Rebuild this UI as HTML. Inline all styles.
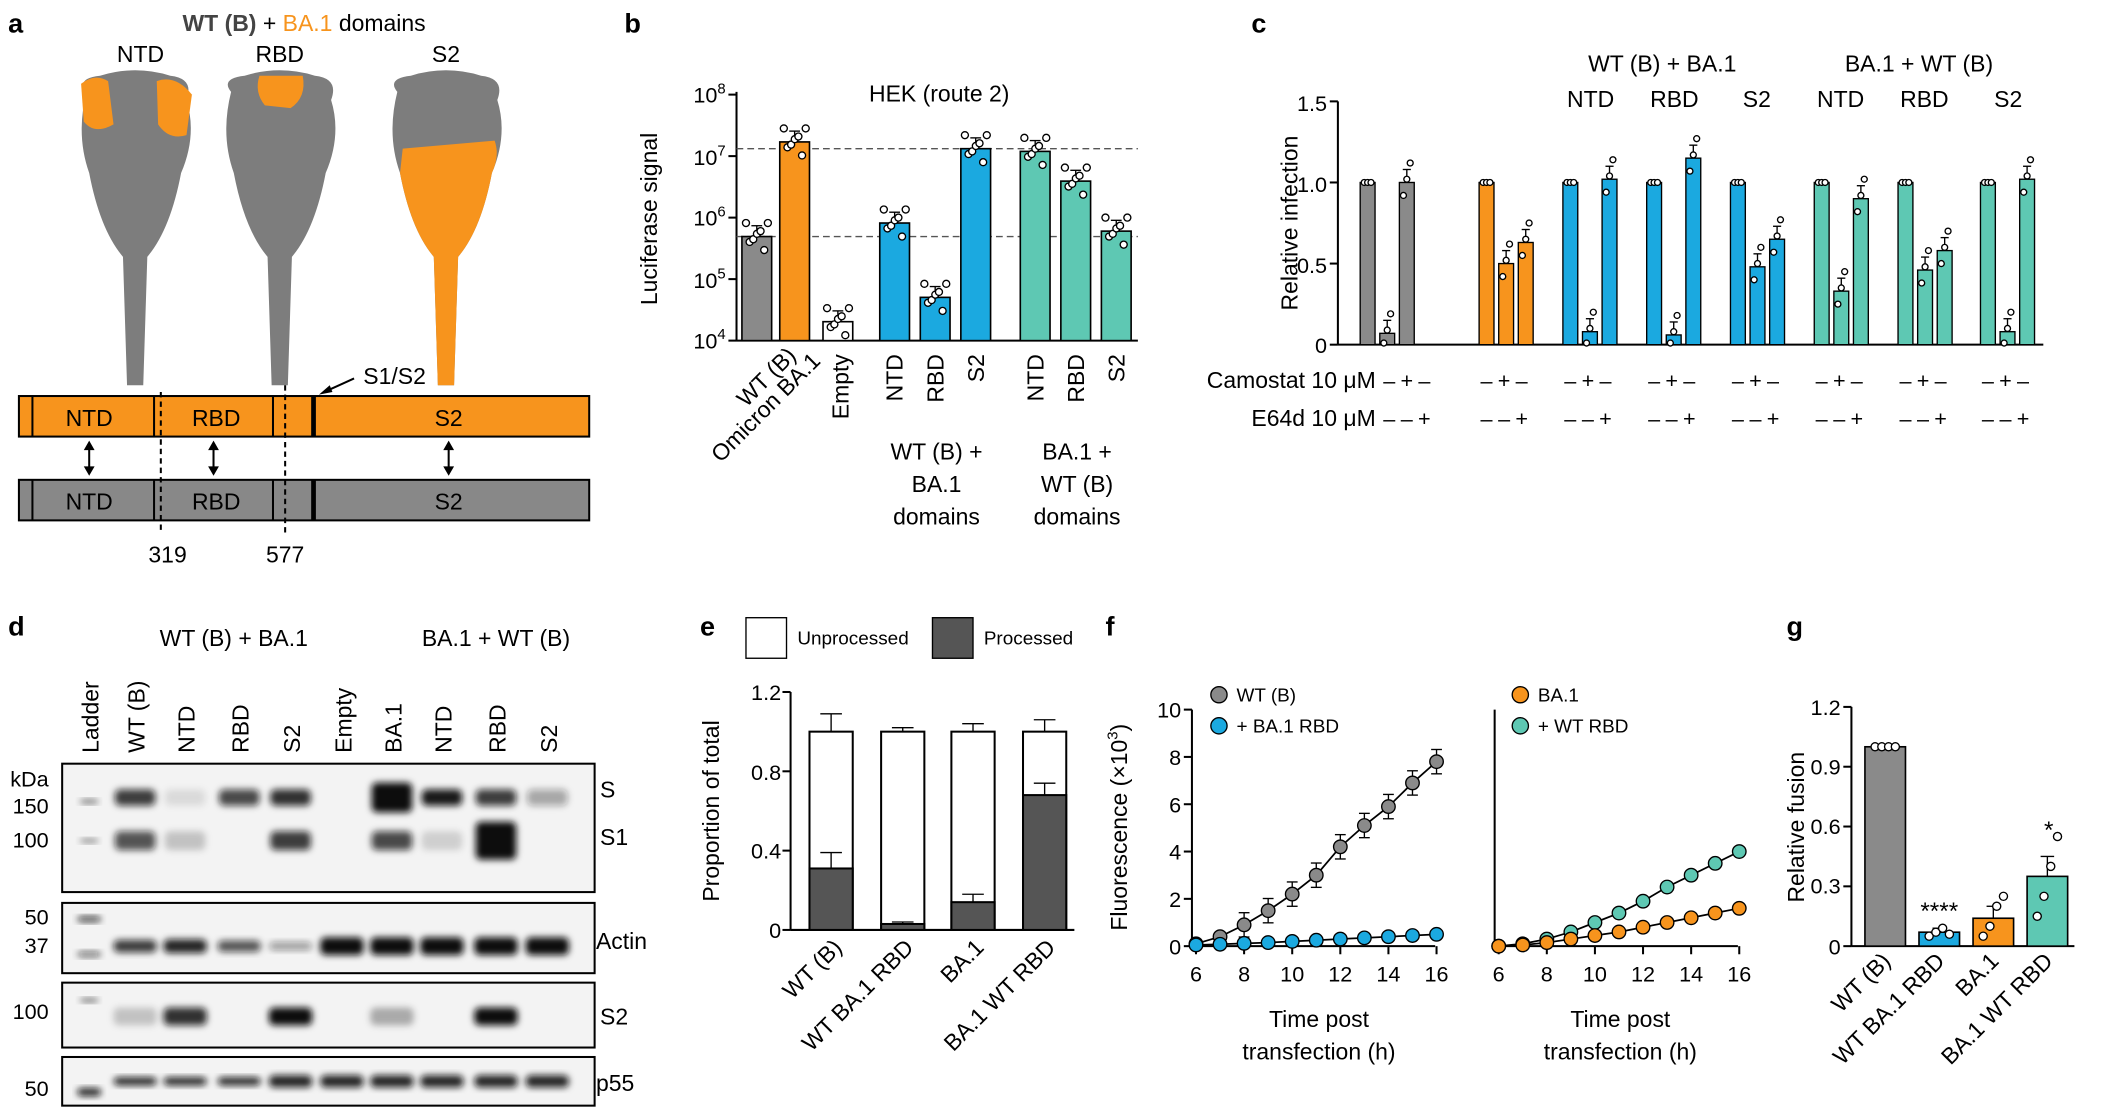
<!DOCTYPE html>
<html><head><meta charset="utf-8"><style>
html,body{margin:0;padding:0;background:#fff;}
svg{display:block;font-family:"Liberation Sans",Arial,sans-serif;}
</style></head><body>
<svg id="s" width="2119" height="1107" viewBox="0 0 1568 819" preserveAspectRatio="none" xmlns="http://www.w3.org/2000/svg">
<defs>
<filter id="bl" x="-20%" y="-50%" width="140%" height="200%"><feGaussianBlur stdDeviation="2.5"/></filter>
</defs>
<g font-weight="bold" font-size="20">
<text x="6" y="24">a</text><text x="462" y="24">b</text><text x="926" y="24">c</text>
<text x="6" y="470">d</text><text x="518" y="470">e</text><text x="818" y="470">f</text><text x="1322" y="470">g</text>
</g>
<text x="225" y="23" font-size="17" text-anchor="middle"><tspan font-weight="bold" fill="#444">WT (B)</tspan> + <tspan fill="#f7941d">BA.1</tspan> domains</text>
<g font-size="17" text-anchor="middle"><text x="104" y="46">NTD</text><text x="207" y="46">RBD</text><text x="330" y="46">S2</text></g>
<g id="spikes"></g>
<rect x="14" y="293" width="422" height="30" fill="#f7941d" stroke="#000" stroke-width="1.5"/>
<rect x="14" y="355" width="422" height="30" fill="#888" stroke="#000" stroke-width="1.5"/>
<g stroke="#000" stroke-width="1.5">
<line x1="24" y1="293" x2="24" y2="323"/><line x1="24" y1="355" x2="24" y2="385"/>
<line x1="114" y1="293" x2="114" y2="323"/><line x1="114" y1="355" x2="114" y2="385"/>
<line x1="202" y1="293" x2="202" y2="323"/><line x1="202" y1="355" x2="202" y2="385"/>
<line x1="232" y1="293" x2="232" y2="323" stroke-width="3.5"/><line x1="232" y1="355" x2="232" y2="385" stroke-width="3.5"/>
<line x1="119" y1="290" x2="119" y2="395" stroke-dasharray="4,3"/>
<line x1="211" y1="285" x2="211" y2="395" stroke-dasharray="4,3"/>
<line x1="66" y1="328" x2="66" y2="350"/><line x1="158" y1="328" x2="158" y2="350"/><line x1="332" y1="328" x2="332" y2="350"/>
<line x1="262" y1="280" x2="240" y2="290"/>
</g>
<g fill="#000"><path d="M66,326 l-4,7 h8z M66,352 l-4,-7 h8z M158,326 l-4,7 h8z M158,352 l-4,-7 h8z M332,326 l-4,7 h8z M332,352 l-4,-7 h8z M236,292 l8,-7 l2,5z"/></g>
<g font-size="17" text-anchor="middle">
<text x="66" y="315">NTD</text><text x="160" y="315">RBD</text><text x="332" y="315">S2</text>
<text x="66" y="377">NTD</text><text x="160" y="377">RBD</text><text x="332" y="377">S2</text>
<text x="124" y="416">319</text><text x="211" y="416">577</text>
<text x="292" y="284">S1/S2</text>
</g>
<g id="pb"></g>
<text x="695" y="75" font-size="17" text-anchor="middle">HEK (route 2)</text>
<text transform="translate(486,162) rotate(-90)" font-size="17" text-anchor="middle">Luciferase signal</text>
<g font-size="16" text-anchor="end">
<text x="537" y="76">10<tspan font-size="11" dy="-7">8</tspan></text>
<text x="537" y="122">10<tspan font-size="11" dy="-7">7</tspan></text>
<text x="537" y="167">10<tspan font-size="11" dy="-7">6</tspan></text>
<text x="537" y="213">10<tspan font-size="11" dy="-7">5</tspan></text>
<text x="537" y="258">10<tspan font-size="11" dy="-7">4</tspan></text>
</g>
<g font-size="17" text-anchor="end">
<text transform="translate(590,264) rotate(-45)">WT (B)</text>
<text transform="translate(608,268) rotate(-45)">Omicron BA.1</text>
<text transform="translate(628,262) rotate(-90)">Empty</text>
<text transform="translate(668,262) rotate(-90)">NTD</text>
<text transform="translate(698,262) rotate(-90)">RBD</text>
<text transform="translate(728,262) rotate(-90)">S2</text>
<text transform="translate(772,262) rotate(-90)">NTD</text>
<text transform="translate(802,262) rotate(-90)">RBD</text>
<text transform="translate(832,262) rotate(-90)">S2</text>
</g>
<g font-size="17" text-anchor="middle">
<text x="693" y="340">WT (B) +</text><text x="693" y="364">BA.1</text><text x="693" y="388">domains</text>
<text x="797" y="340">BA.1 +</text><text x="797" y="364">WT (B)</text><text x="797" y="388">domains</text>
</g>
<g id="pc"></g>
<text transform="translate(960,165) rotate(-90)" font-size="17" text-anchor="middle">Relative infection</text>
<g font-size="16" text-anchor="end"><text x="982" y="82">1.5</text><text x="982" y="142">1.0</text><text x="982" y="202">0.5</text><text x="982" y="261">0</text></g>
<g font-size="17" text-anchor="middle">
<text x="1230" y="53">WT (B) + BA.1</text><text x="1420" y="53">BA.1 + WT (B)</text>
<text x="1177" y="79">NTD</text><text x="1239" y="79">RBD</text><text x="1300" y="79">S2</text>
<text x="1362" y="79">NTD</text><text x="1424" y="79">RBD</text><text x="1486" y="79">S2</text>
</g>
<g font-size="17" text-anchor="end"><text x="1018" y="287">Camostat 10 μM</text><text x="1018" y="315">E64d 10 μM</text></g>
<g id="pm" font-size="16" text-anchor="middle"></g>
<g font-size="17" text-anchor="middle"><text x="173" y="478">WT (B) + BA.1</text><text x="367" y="478">BA.1 + WT (B)</text></g>
<g id="pd"></g>
<g font-size="16" text-anchor="end"><text x="36" y="582">kDa</text><text x="36" y="602">150</text><text x="36" y="627">100</text><text x="36" y="684">50</text><text x="36" y="705">37</text><text x="36" y="754">100</text><text x="36" y="811">50</text></g>
<g font-size="17"><text x="444" y="590">S</text><text x="444" y="625">S1</text><text x="441" y="702">Actin</text><text x="444" y="758">S2</text><text x="441" y="807">p55</text></g>
<rect x="552" y="457" width="30" height="30" fill="#fff" stroke="#000"/><text x="590" y="477" font-size="14">Unprocessed</text>
<rect x="690" y="457" width="30" height="30" fill="#555" stroke="#000"/><text x="728" y="477" font-size="14">Processed</text>
<g id="pe"></g>
<text transform="translate(532,600) rotate(-90)" font-size="17" text-anchor="middle">Proportion of total</text>
<g font-size="16" text-anchor="end"><text x="578" y="518">1.2</text><text x="578" y="577">0.8</text><text x="578" y="635">0.4</text><text x="578" y="694">0</text></g>
<g font-size="17" text-anchor="end">
<text transform="translate(624,702) rotate(-45)">WT (B)</text>
<text transform="translate(677,702) rotate(-45)">WT BA.1 RBD</text>
<text transform="translate(729,702) rotate(-45)">BA.1</text>
<text transform="translate(782,702) rotate(-45)">BA.1 WT RBD</text>
</g>
<g id="pf"></g>
<text transform="translate(834,612) rotate(-90)" font-size="17" text-anchor="middle">Fluorescence (×10<tspan font-size="11" dy="-7">3</tspan><tspan dy="7">)</tspan></text>
<g font-size="16" text-anchor="end"><text x="874" y="531">10</text><text x="874" y="566">8</text><text x="874" y="601">6</text><text x="874" y="636">4</text><text x="874" y="671">2</text><text x="874" y="706">0</text></g>
<g font-size="14"><text x="915" y="519">WT (B)</text><text x="915" y="542">+ BA.1 RBD</text><text x="1138" y="519">BA.1</text><text x="1138" y="542">+ WT RBD</text></g>
<g font-size="17" text-anchor="middle"><text x="976" y="760">Time post</text><text x="976" y="784">transfection (h)</text><text x="1199" y="760">Time post</text><text x="1199" y="784">transfection (h)</text></g>
<g id="pg"></g>
<text transform="translate(1335,612) rotate(-90)" font-size="17" text-anchor="middle">Relative fusion</text>
<g font-size="16" text-anchor="end"><text x="1362" y="529">1.2</text><text x="1362" y="573">0.9</text><text x="1362" y="617">0.6</text><text x="1362" y="661">0.3</text><text x="1362" y="706">0</text></g>
<g font-size="18" text-anchor="middle"><text x="1435" y="680">****</text><text x="1516" y="620">*</text></g>
<g font-size="17" text-anchor="end">
<text transform="translate(1400,712) rotate(-45)">WT (B)</text>
<text transform="translate(1440,712) rotate(-45)">WT BA.1 RBD</text>
<text transform="translate(1480,712) rotate(-45)">BA.1</text>
<text transform="translate(1520,712) rotate(-45)">BA.1 WT RBD</text>
</g>
</svg>
<script>
const NS="http://www.w3.org/2000/svg";
function el(p,t,a){const e=document.createElementNS(NS,t);for(const k in a)e.setAttribute(k,a[k]);document.getElementById(p).appendChild(e);return e;}
const OR="#f7941d",BL="#1ba9e0",TE="#5ec8b3",GR="#8a8a8a";
function spk(cx){return `M${cx-36},68 Q${cx-44},58 ${cx-26},56 Q${cx},48 ${cx+26},56 Q${cx+44},58 ${cx+38},74 Q${cx+46},100 ${cx+34},128 Q${cx+26},170 ${cx+9},190 L${cx+6},285 L${cx-6},285 L${cx-9},190 Q${cx-26},170 ${cx-34},128 Q${cx-44},100 ${cx-36},68 Z`;}
[100,207,330].forEach(c=>el("spikes","path",{d:spk(c),fill:"#7d7d7d"}));
el("spikes","path",{d:"M60,62 Q70,54 80,60 L84,92 Q70,100 62,90Z",fill:OR});
el("spikes","path",{d:"M116,60 Q130,55 142,70 L138,100 Q125,104 117,92Z",fill:OR});
el("spikes","path",{d:"M192,56 L224,56 Q227,72 215,80 L196,78 Q188,68 192,56Z",fill:OR});
el("spikes","path",{d:"M298,110 L366,104 Q370,115 364,128 Q356,170 339,190 L336,285 L324,285 L321,190 Q304,170 296,128Z",fill:OR});
el("pb","line",{x1:545,y1:68,x2:545,y2:252,stroke:"#000","stroke-width":1.5});
el("pb","line",{x1:545,y1:252,x2:842,y2:252,stroke:"#000","stroke-width":1.5});
for(let i=0;i<=4;i++)el("pb","line",{x1:539,y1:70+i*45.5,x2:545,y2:70+i*45.5,stroke:"#000","stroke-width":1.5});
el("pb","line",{x1:545,y1:110,x2:842,y2:110,stroke:"#555","stroke-dasharray":"5,3"});
el("pb","line",{x1:545,y1:175,x2:842,y2:175,stroke:"#555","stroke-dasharray":"5,3"});
[[560,175,GR],[588,105,OR],[620,238,"#fff"],[662,165,BL],[692,220,BL],[722,110,BL],[766,112,TE],[796,134,TE],[826,171,TE]].forEach(b=>{
 el("pb","rect",{x:b[0]-11,y:b[1],width:22,height:252-b[1],fill:b[2],stroke:"#000","stroke-width":1.2});
 el("pb","line",{x1:b[0],y1:b[1],x2:b[0],y2:b[1]-8,stroke:"#000"});
 el("pb","line",{x1:b[0]-4,y1:b[1]-8,x2:b[0]+4,y2:b[1]-8,stroke:"#000"});
 for(let k=0;k<7;k++){const dy=(k%3-1)*6+(k%2?4:-4);el("pb","circle",{cx:b[0]-8+k*2.7,cy:b[1]+dy,r:2.6,fill:"#fff",stroke:"#000","stroke-width":1});}
});
const yc=v=>255-120*v;
el("pc","line",{x1:990,y1:75,x2:990,y2:255,stroke:"#000","stroke-width":1.5});
el("pc","line",{x1:990,y1:255,x2:1512,y2:255,stroke:"#000","stroke-width":1.5});
[0,0.5,1,1.5].forEach(v=>el("pc","line",{x1:984,y1:yc(v),x2:990,y2:yc(v),stroke:"#000","stroke-width":1.5}));
const G=[[1012,GR,[1,0.07,1.0]],[1100,OR,[1,0.5,0.63]],[1162,BL,[1,0.08,1.02]],[1224,BL,[1,0.06,1.15]],[1286,BL,[1,0.48,0.65]],[1348,TE,[1,0.33,0.9]],[1410,TE,[1,0.46,0.58]],[1471,TE,[1,0.08,1.02]]];
G.forEach((g,gi)=>{g[2].forEach((v,i)=>{const x=g[0]+i*14.5;
 el("pc","rect",{x:x-5.5,y:yc(v),width:11,height:255-yc(v),fill:g[1],stroke:"#000","stroke-width":1});
 if(i>0){el("pc","line",{x1:x,y1:yc(v),x2:x,y2:yc(v+0.08),stroke:"#000"});el("pc","line",{x1:x-3,y1:yc(v+0.08),x2:x+3,y2:yc(v+0.08),stroke:"#000"});}
 const ds=i?[-0.08,0.02,0.12]:[0,0,0];
 ds.forEach((d,k)=>el("pc","circle",{cx:x+(k-1)*2.5,cy:yc(Math.max(0.01,v+d)),r:2.2,fill:"#fff",stroke:"#000","stroke-width":1}));
});
 const pm=document.getElementById("pm");const off=gi==0?16:0;
 ["–+–","––+"].forEach((s,r)=>{for(let i=0;i<3;i++){const t=document.createElementNS(NS,"text");t.setAttribute("x",g[0]+off+i*13);t.setAttribute("y",r?315:287);t.textContent=s[i];pm.appendChild(t);}});
});
[[46,565,394,95],[46,668,394,52],[46,727,394,48],[46,782,394,36]].forEach(b=>el("pd","rect",{x:b[0],y:b[1],width:b[2],height:b[3],fill:"#f3f3f3",stroke:"#000","stroke-width":1.5}));
const L=[66,100,137,177,215,253,290,327,367,405];
const names=["Ladder","WT (B)","NTD","RBD","S2","Empty","BA.1","NTD","RBD","S2"];
names.forEach((n,i)=>{const t=el("pd","text",{transform:`translate(${L[i]+7},557) rotate(-90)`,"font-size":17});t.textContent=n;});
function band(x,y,w,h,o){el("pd","rect",{x:x-w/2,y:y-h/2,width:w,height:h,rx:4,fill:"#111","fill-opacity":o,filter:"url(#bl)"});}
band(66,593,14,3,0.6);band(66,622,14,3,0.5);
const S=[0,.8,.1,.75,.85,0,1,.95,.8,.35],S1=[0,.7,.2,0,.8,0,.75,.15,1,0];
L.forEach((x,i)=>{if(i){band(x,590,30,i==6?22:12,S[i]);band(x,622,30,i==8?28:14,S1[i]);}});
band(66,680,18,4,0.8);band(66,706,18,4,0.6);
L.forEach((x,i)=>{if(i)band(x,700,32,i<5?[0,.7,.8,.6,.35][i]*9+3:13,i<5?[0,.8,.9,.7,.4][i]:1);});
band(66,740,14,3,.6);
[[100,.2],[137,.85],[215,1],[290,.3],[367,1]].forEach(b=>band(b[0],752,32,13,b[1]));
band(66,808,18,6,.9);
L.forEach((x,i)=>{if(i)band(x,800,32,i<4?6:9,.9);});
const ye=v=>688-146.7*v;
el("pe","line",{x1:585,y1:512,x2:585,y2:688,stroke:"#000","stroke-width":1.5});
el("pe","line",{x1:585,y1:688,x2:795,y2:688,stroke:"#000","stroke-width":1.5});
[0,.4,.8,1.2].forEach(v=>el("pe","line",{x1:579,y1:ye(v),x2:585,y2:ye(v),stroke:"#000","stroke-width":1.5}));
[[615,.31,.08,.09],[668,.03,.01,.02],[720,.14,.04,.04],[773,.68,.06,.06]].forEach(b=>{
 el("pe","line",{x1:b[0],y1:ye(1),x2:b[0],y2:ye(1+b[3]),stroke:"#000"});el("pe","line",{x1:b[0]-8,y1:ye(1+b[3]),x2:b[0]+8,y2:ye(1+b[3]),stroke:"#000"});
 el("pe","rect",{x:b[0]-16,y:ye(1),width:32,height:ye(0)-ye(1),fill:"#fff",stroke:"#000","stroke-width":1.5});
 el("pe","line",{x1:b[0],y1:ye(b[1]),x2:b[0],y2:ye(b[1]+b[2]),stroke:"#000"});el("pe","line",{x1:b[0]-8,y1:ye(b[1]+b[2]),x2:b[0]+8,y2:ye(b[1]+b[2]),stroke:"#000"});
 el("pe","rect",{x:b[0]-16,y:ye(b[1]),width:32,height:ye(0)-ye(b[1]),fill:"#555",stroke:"#000","stroke-width":1.5});
});
const yf=v=>700-17.5*v;
function axf(x0,ticks){el("pf","line",{x1:x0,y1:525,x2:x0,y2:700,stroke:"#000","stroke-width":1.5});el("pf","line",{x1:x0,y1:700,x2:x0+180,y2:700,stroke:"#000","stroke-width":1.5});
 if(ticks)[0,2,4,6,8,10].forEach(v=>el("pf","line",{x1:x0-6,y1:yf(v),x2:x0,y2:yf(v),stroke:"#000","stroke-width":1.5}));
 [6,8,10,12,14,16].forEach(t=>{const x=x0+3+(t-6)*17.8;el("pf","line",{x1:x,y1:700,x2:x,y2:706,stroke:"#000","stroke-width":1.5});const tt=el("pf","text",{x:x,y:726,"font-size":16,"text-anchor":"middle"});tt.textContent=t;});}
axf(882,1);axf(1106,0);
function ser(x0,vals,col,err){const pts=vals.map((v,i)=>[x0+3+i*17.8,yf(v)]);
 el("pf","polyline",{points:pts.map(p=>p.join(",")).join(" "),fill:"none",stroke:"#000","stroke-width":1.3});
 pts.forEach((p,i)=>{if(err&&i>1){el("pf","line",{x1:p[0],y1:p[1]-9,x2:p[0],y2:p[1]+9,stroke:"#000"});el("pf","line",{x1:p[0]-4,y1:p[1]-9,x2:p[0]+4,y2:p[1]-9,stroke:"#000"});el("pf","line",{x1:p[0]-4,y1:p[1]+9,x2:p[0]+4,y2:p[1]+9,stroke:"#000"});}
 el("pf","circle",{cx:p[0],cy:p[1],r:5,fill:col,stroke:"#000","stroke-width":1});});}
ser(882,[0.1,0.4,0.9,1.5,2.2,3.0,4.2,5.1,5.9,6.9,7.8],GR,1);
ser(882,[0.05,0.08,0.12,0.15,0.2,0.25,0.3,0.35,0.4,0.45,0.5],BL,0);
ser(1106,[0,0.1,0.3,0.6,1.0,1.4,1.9,2.5,3.0,3.5,4.0],TE,0);
ser(1106,[0,0.05,0.15,0.3,0.45,0.6,0.8,1.0,1.2,1.4,1.6],OR,0);
[[902,514,GR],[902,537,BL],[1125,514,OR],[1125,537,TE]].forEach(c=>el("pf","circle",{cx:c[0],cy:c[1],r:6,fill:c[2],stroke:"#000"}));
const yg=v=>700-147.5*v;
el("pg","line",{x1:1370,y1:523,x2:1370,y2:700,stroke:"#000","stroke-width":1.5});
el("pg","line",{x1:1370,y1:700,x2:1535,y2:700,stroke:"#000","stroke-width":1.5});
[0,.3,.6,.9,1.2].forEach(v=>el("pg","line",{x1:1364,y1:yg(v),x2:1370,y2:yg(v),stroke:"#000","stroke-width":1.5}));
[[1395,1,0,GR,[1,1,1,1]],[1435,.07,.02,BL,[.05,.07,.09,.06]],[1475,.14,.06,OR,[.05,.1,.2,.25]],[1515,.35,.1,TE,[.15,.25,.4,.55]]].forEach(b=>{
 el("pg","rect",{x:b[0]-15,y:yg(b[1]),width:30,height:700-yg(b[1]),fill:b[3],stroke:"#000","stroke-width":1.2});
 if(b[2]){el("pg","line",{x1:b[0],y1:yg(b[1]),x2:b[0],y2:yg(b[1]+b[2]),stroke:"#000"});el("pg","line",{x1:b[0]-5,y1:yg(b[1]+b[2]),x2:b[0]+5,y2:yg(b[1]+b[2]),stroke:"#000"});}
 b[4].forEach((v,k)=>el("pg","circle",{cx:b[0]-7.5+k*5,cy:yg(v),r:3,fill:"#fff",stroke:"#000","stroke-width":1}));
});
</script>
</body></html>
